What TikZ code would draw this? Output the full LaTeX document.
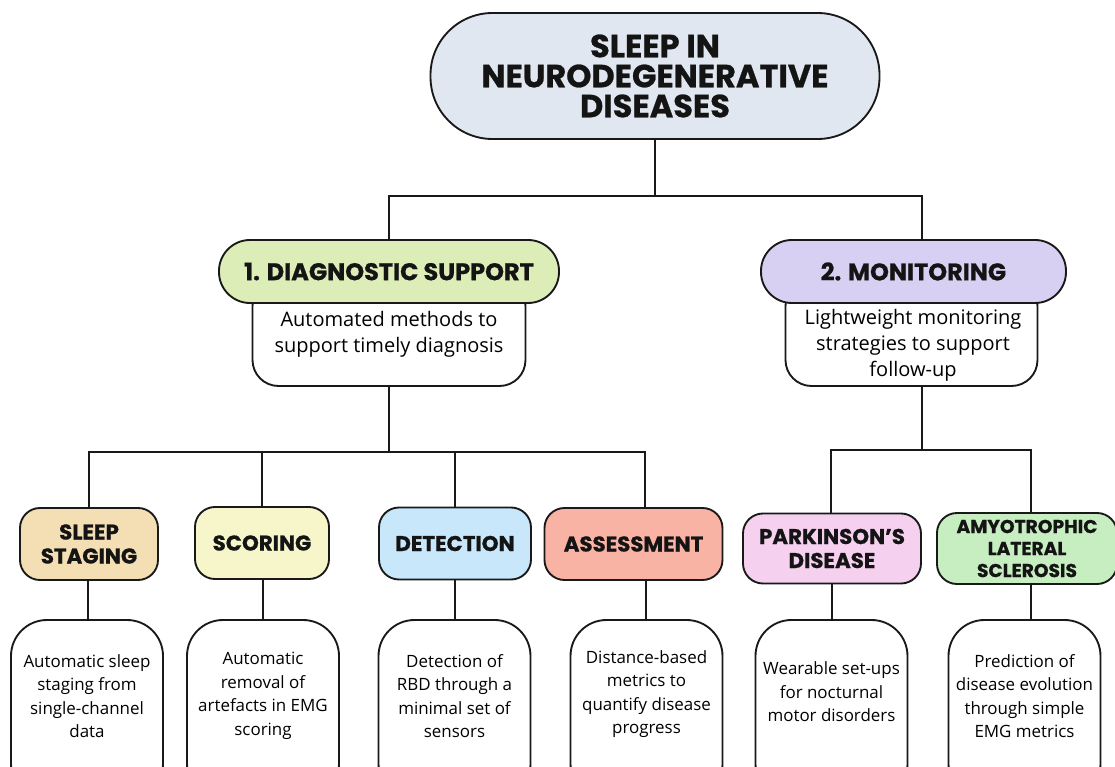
\documentclass[tikz,border=0pt]{standalone}
\usepackage{fontspec}
\setmainfont{Open Sans}
\newfontfamily\hd{Poppins}[BoldFeatures={FakeBold=0.8}]
\definecolor{topc}{HTML}{E1E7F0}
\definecolor{diagc}{HTML}{DDEDB8}
\definecolor{monc}{HTML}{D8D0F2}
\definecolor{stgc}{HTML}{F4DFB4}
\definecolor{scoc}{HTML}{F6F6CA}
\definecolor{detc}{HTML}{C8E7FB}
\definecolor{assc}{HTML}{F8B3A5}
\definecolor{parc}{HTML}{F6D0EF}
\definecolor{alsc}{HTML}{C6EEC0}
\begin{document}
\begin{tikzpicture}[x=0.75pt,y=-0.75pt,
  ln/.style={line width=1.4pt,draw=black!90},
  bx/.style={draw=black!90,line width=1.4pt,align=center,inner sep=0pt,text=black!92},
  headA/.style={bx,font=\hd\bfseries\fontsize{24}{22.5}\selectfont},
  headB/.style={bx,font=\hd\bfseries\fontsize{18}{19}\selectfont,rounded corners=31*0.75pt,minimum height=63*0.75pt},
  headC/.style={bx,font=\hd\bfseries\fontsize{16}{18}\selectfont,rounded corners=20*0.75pt,minimum height=72*0.75pt},
  descbox/.style={bx,fill=white,rounded corners=26*0.75pt},
  desctxt/.style={align=center,inner sep=0pt,font=\fontsize{15}{19.5}\selectfont},
  leafbox/.style={bx,fill=white,rounded corners=36*0.75pt,minimum width=152*0.75pt,minimum height=180*0.75pt},
  leaftxt/.style={align=center,inner sep=0pt,font=\fontsize{12.7}{17.6}\selectfont}
]
\clip (0,0) rectangle (1115,767);
\fill[white] (0,0) rectangle (1115,767);

% root
\node[headA,fill=topc,minimum width=449*0.75pt,minimum height=126*0.75pt,rounded corners=62*0.75pt] (root) at (655,76)
  {SLEEP IN\\NEURODEGENERATIVE\\DISEASES};

% description boxes (behind the pills)
\node[descbox,minimum width=273*0.75pt,minimum height=106*0.75pt] (ddesc) at (389,333) {};
\node[descbox,minimum width=252*0.75pt,minimum height=106*0.75pt] (mdesc) at (911.5,333) {};
\node[desctxt] (ddtxt) at (389,334) {Automated methods to\\support timely diagnosis};
\node[desctxt] (mdtxt) at (913,345) {Lightweight monitoring\\strategies to support\\follow-up};

% level 2 pills
\node[headB,fill=diagc,minimum width=340*0.75pt] (diag) at (389,271.5) {1. DIAGNOSTIC SUPPORT};
\node[headB,fill=monc,minimum width=305*0.75pt] (mon) at (913.5,271.5) {2. MONITORING};

% level 3
\node[headC,fill=stgc,minimum width=138*0.75pt] (stg) at (89,544) {SLEEP\\STAGING};
\node[headC,fill=scoc,minimum width=134*0.75pt] (sco) at (262,543) {SCORING};
\node[headC,fill=detc,minimum width=152*0.75pt] (det) at (455,543.5) {DETECTION};
\node[headC,fill=assc,minimum width=178*0.75pt] (ass) at (633.5,544) {ASSESSMENT};
\node[headC,fill=parc,minimum width=178*0.75pt,minimum height=70*0.75pt] (par) at (832,548.5) {PARKINSON’S\\DISEASE};
\node[headC,fill=alsc,minimum width=180*0.75pt,minimum height=71*0.75pt,font=\hd\bfseries\fontsize{14}{16.5}\selectfont] (als) at (1027,548.5) {AMYOTROPHIC\\LATERAL\\SCLEROSIS};

% leaves
\node[leafbox] (b1) at (87,710) {};
\node[leafbox] (b2) at (263,710) {};
\node[leafbox] (b3) at (454.5,710) {};
\node[leafbox] (b4) at (646.5,710) {};
\node[leafbox] (b5) at (831.5,710) {};
\node[leafbox] (b6) at (1024.5,710) {};
\node[leaftxt] (t1) at (87,696) {Automatic sleep\\staging from\\single-channel\\data};
\node[leaftxt] (t2) at (263,696) {Automatic\\removal of\\artefacts in EMG\\scoring};
\node[leaftxt] (t3) at (454.5,696) {Detection of\\RBD through a\\minimal set of\\sensors};
\node[leaftxt] (t4) at (646.5,694) {Distance-based\\metrics to\\quantify disease\\progress};
\node[leaftxt] (t5) at (831.5,692) {Wearable set-ups\\for nocturnal\\motor disorders};
\node[leaftxt] (t6) at (1024.5,696) {Prediction of\\disease evolution\\through simple\\EMG metrics};

% connectors
\coordinate (j1) at (655,196);
\coordinate (j2) at (389,452);
\coordinate (j3) at (922,450);
\draw[ln] (root.south) -- (root.south |- j1);
\draw[ln] (diag.north) |- (j1);
\draw[ln] ([xshift=8.5*0.75pt]mon.north) |- (j1);
\draw[ln] (ddesc.south) -- (ddesc.south |- j2);
\draw[ln] ([xshift=10.5*0.75pt]mdesc.south) -- ([xshift=10.5*0.75pt]mdesc.south |- j3);
\draw[ln] (stg.north) |- (j2);
\draw[ln] ([xshift=11.5*0.75pt]ass.north) |- (j2);
\draw[ln] (sco.north) -- (sco.north |- j2);
\draw[ln] (det.north) -- (det.north |- j2);
\draw[ln] ([xshift=-1*0.75pt]par.north) |- (j3);
\draw[ln] ([xshift=4*0.75pt]als.north) |- (j3);
\draw[ln] ([xshift=-1*0.75pt]stg.south) -- ([xshift=-1*0.75pt]stg.south |- b1.north);
\draw[ln] ([xshift=1*0.75pt]sco.south) -- ([xshift=1*0.75pt]sco.south |- b2.north);
\draw[ln] (det.south) -- (det.south |- b3.north);
\draw[ln] ([xshift=12.5*0.75pt]ass.south) -- ([xshift=12.5*0.75pt]ass.south |- b4.north);
\draw[ln] (par.south) -- (par.south |- b5.north);
\draw[ln] ([xshift=4*0.75pt]als.south) -- ([xshift=4*0.75pt]als.south |- b6.north);
\end{tikzpicture}
\end{document}
